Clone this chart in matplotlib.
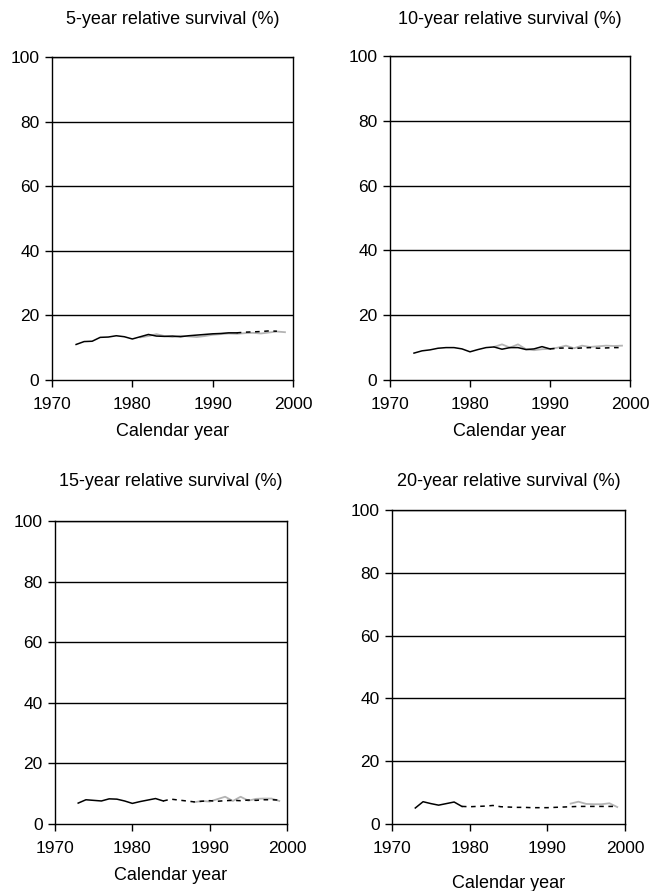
#!/usr/bin/env python3
"""Relative survival (5/10/15/20-year) by calendar year, four small panels."""

import matplotlib
matplotlib.use("Agg")
import matplotlib.pyplot as plt

plt.rcParams["font.family"] = ["Liberation Sans", "DejaVu Sans"]

# --- data ------------------------------------------------------------------
# 5-year
p5_solid_years = list(range(1973, 1994))
p5_solid = [11.0, 11.9, 12.0, 13.2, 13.3, 13.7, 13.4, 12.7, 13.4, 14.1, 13.6,
            13.5, 13.6, 13.4, 13.7, 13.9, 14.1, 14.3, 14.4, 14.6, 14.6]
p5_dash_years = list(range(1993, 1999))
p5_dash = [14.6, 14.8, 14.9, 15.0, 15.2, 15.1]
p5_gray_years = list(range(1981, 2000))
p5_gray = [13.2, 13.6, 14.2, 13.6, 13.3, 13.7, 13.5, 13.3, 13.6, 14.0, 14.2,
           14.4, 14.3, 14.5, 14.6, 14.4, 14.7, 15.0, 14.8]

# 10-year
p10_solid_years = list(range(1973, 1991))
p10_solid = [8.3, 9.0, 9.3, 9.8, 10.0, 10.0, 9.6, 8.7, 9.4, 10.0, 10.2, 9.5,
             10.0, 10.0, 9.4, 9.6, 10.3, 9.6]
p10_dash_years = list(range(1990, 2000))
p10_dash = [9.6, 9.8, 9.9, 9.7, 9.9, 10.0, 9.8, 9.9, 10.0, 10.0]
p10_gray_years = list(range(1983, 2000))
p10_gray = [10.2, 11.0, 10.0, 11.0, 9.5, 9.2, 9.5, 9.6, 10.0, 10.6, 9.8, 10.6,
            10.2, 10.4, 10.6, 10.5, 10.6]

# 15-year
p15_solid_years = list(range(1973, 1985))
p15_solid = [6.9, 8.0, 7.8, 7.6, 8.3, 8.2, 7.6, 6.8, 7.4, 7.9, 8.4, 7.6]
p15_dash_years = list(range(1984, 2000))
p15_dash = [7.6, 8.2, 7.9, 7.6, 7.3, 7.5, 7.7, 7.5, 7.7, 7.8, 7.7, 7.9, 7.8,
            8.0, 8.0, 7.9]
p15_gray_years = list(range(1988, 2000))
p15_gray = [7.2, 7.6, 7.4, 8.2, 9.0, 7.6, 9.0, 7.7, 8.3, 8.4, 8.4, 7.6]

# 20-year
p20_solid_years = list(range(1973, 1980))
p20_solid = [5.1, 7.1, 6.5, 6.0, 6.5, 7.0, 5.6]
p20_dash_years = list(range(1979, 2000))
p20_dash = [5.6, 5.5, 5.6, 5.7, 5.9, 5.5, 5.4, 5.3, 5.3, 5.2, 5.2, 5.2, 5.3,
            5.4, 5.5, 5.6, 5.6, 5.6, 5.6, 5.6, 5.6]
p20_gray_years = list(range(1993, 2000))
p20_gray = [6.5, 7.1, 6.4, 6.3, 6.3, 6.6, 5.4]

TITLES = [
    "5-year relative survival (%)",
    "10-year relative survival (%)",
    "15-year relative survival (%)",
    "20-year relative survival (%)",
]
X_TICKS = [1970, 1980, 1990, 2000]
Y_TICKS = [0, 20, 40, 60, 80, 100]

W, H = 667, 891

# (left, right, top, bottom) in pixels, title y, year-label y
PANELS = [
    ((52, 293, 57, 380), 20, 432),
    ((390, 630, 56, 380), 20, 432),
    ((55, 287, 521, 824), 482, 875),
    ((392, 625, 510, 824), 482, 883),
]

SERIES = [
    (p5_solid_years, p5_solid, p5_gray_years, p5_gray, p5_dash_years, p5_dash),
    (p10_solid_years, p10_solid, p10_gray_years, p10_gray, p10_dash_years, p10_dash),
    (p15_solid_years, p15_solid, p15_gray_years, p15_gray, p15_dash_years, p15_dash),
    (p20_solid_years, p20_solid, p20_gray_years, p20_gray, p20_dash_years, p20_dash),
]


def draw_panel(fig, box, title_y, xlab_y, title, data):
    left, right, top, bottom = box
    ax = fig.add_axes([left / W, 1 - bottom / H, (right - left) / W, (bottom - top) / H])
    sx, sy, gx, gy, dx, dy = data

    for y in Y_TICKS[1:]:
        ax.axhline(y, color="black", linewidth=1.0, zorder=1)

    ax.plot(sx, sy, color="black", linewidth=1.1, zorder=3)
    ax.plot(gx, gy, color="#b4b4b4", linewidth=1.3, zorder=2)
    ax.plot(dx, dy, color="black", linewidth=1.1, linestyle=(0, (3, 3)), zorder=3)

    ax.set_xlim(1970, 2000)
    ax.set_ylim(0, 100)
    ax.set_xticks(X_TICKS)
    ax.set_yticks(Y_TICKS)
    ax.tick_params(direction="out", length=5, width=1, labelsize=12.5)
    ax.tick_params(axis="x", pad=7)
    ax.tick_params(axis="y", pad=4)
    for s in ax.spines.values():
        s.set_color("black")
        s.set_linewidth(1.0)

    cx = (left + right) / 2 / W
    fig.text(cx, 1 - title_y / H, title, ha="center", va="center", fontsize=13)
    fig.text(cx, 1 - xlab_y / H, "Calendar year", ha="center", va="center", fontsize=13)
    return ax


def main() -> None:
    fig = plt.figure(figsize=(W / 100, H / 100), dpi=100)
    for (box, ty, xy), title, data in zip(PANELS, TITLES, SERIES):
        draw_panel(fig, box, ty, xy, title, data)
    fig.savefig("out.png", dpi=100)
    plt.close(fig)


if __name__ == "__main__":
    main()
